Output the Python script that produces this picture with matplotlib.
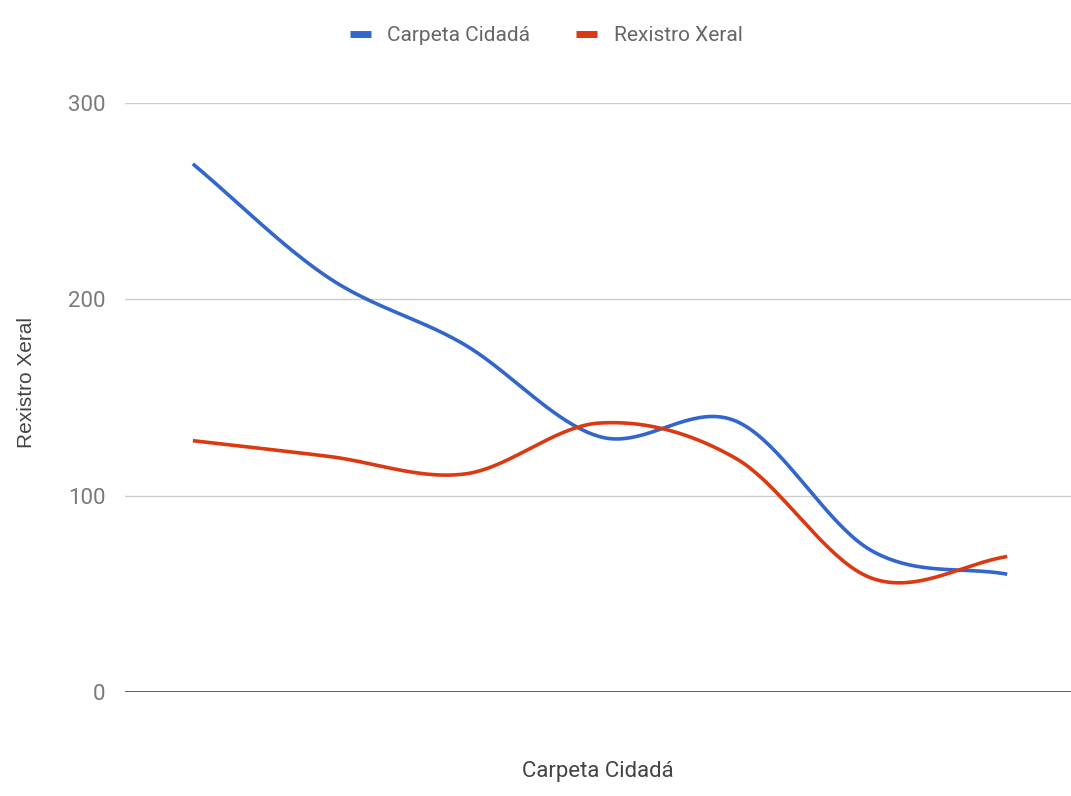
import numpy as np
import matplotlib
matplotlib.use("Agg")
import matplotlib.pyplot as plt

# one value per period, x axis has no category labels
periods = [0, 1, 2, 3, 4, 5, 6]
carpeta = [269, 211, 177, 130, 138, 72, 60]
rexistro = [128, 120, 111, 137, 119, 58, 69]

BLUE = "#3366cc"
RED = "#dc3912"


def smooth(xs, ys, n=40):
    # cubic hermite through every point, catmull-rom tangents
    xs = np.asarray(xs, float)
    ys = np.asarray(ys, float)
    m = np.zeros_like(ys)
    m[1:-1] = (ys[2:] - ys[:-2]) / 2.0
    m[0] = ys[1] - ys[0]
    m[-1] = ys[-1] - ys[-2]
    out_x, out_y = [], []
    for i in range(len(xs) - 1):
        t = np.linspace(0, 1, n, endpoint=(i == len(xs) - 2))
        h00 = 2 * t**3 - 3 * t**2 + 1
        h10 = t**3 - 2 * t**2 + t
        h01 = -2 * t**3 + 3 * t**2
        h11 = t**3 - t**2
        out_x.append(xs[i] + t * (xs[i + 1] - xs[i]))
        out_y.append(h00 * ys[i] + h10 * m[i] + h01 * ys[i + 1] + h11 * m[i + 1])
    return np.concatenate(out_x), np.concatenate(out_y)


fig = plt.figure(figsize=(10.71, 7.96), dpi=100)
ax = fig.add_axes([0.1167, 0.1307, 0.8833, 0.7399])

x, y = smooth(periods, carpeta)
ax.plot(x, y, color=BLUE, lw=2.6, label="Carpeta Cidadá", solid_capstyle="butt")
x, y = smooth(periods, rexistro)
ax.plot(x, y, color=RED, lw=2.6, label="Rexistro Xeral", solid_capstyle="butt")

ax.set_xlim(-0.5, 6.47)
ax.set_ylim(0, 300)
ax.set_yticks([0, 100, 200, 300])
ax.set_xticks([])
for v in [100, 200, 300]:
    ax.axhline(v, color="#cccccc", lw=1.0, zorder=0)
ax.axhline(0, color="#333333", lw=1.8, zorder=3)
for s in ax.spines.values():
    s.set_visible(False)
ax.tick_params(axis="y", length=0, pad=14, labelsize=16, labelcolor="#7a7a7a")
for lab in ax.get_yticklabels():
    lab.set_family("Roboto")

ax.set_xlabel("Carpeta Cidadá", family="Roboto", fontsize=16, color="#444444", labelpad=50)
fig.text(0.025, 0.52, "Rexistro Xeral", rotation=90, family="Liberation Sans",
         fontsize=15, color="#444444", ha="center", va="center")

leg = fig.legend(loc="center", bbox_to_anchor=(0.51, 0.955), ncol=2, frameon=False,
                 handlelength=1.0, handletextpad=0.8, columnspacing=2.2,
                 prop={"family": "Roboto", "size": 15})
for h in leg.get_lines():
    h.set_linewidth(5)
for t in leg.get_texts():
    t.set_color("#666666")

fig.savefig("out.png", dpi=100)
